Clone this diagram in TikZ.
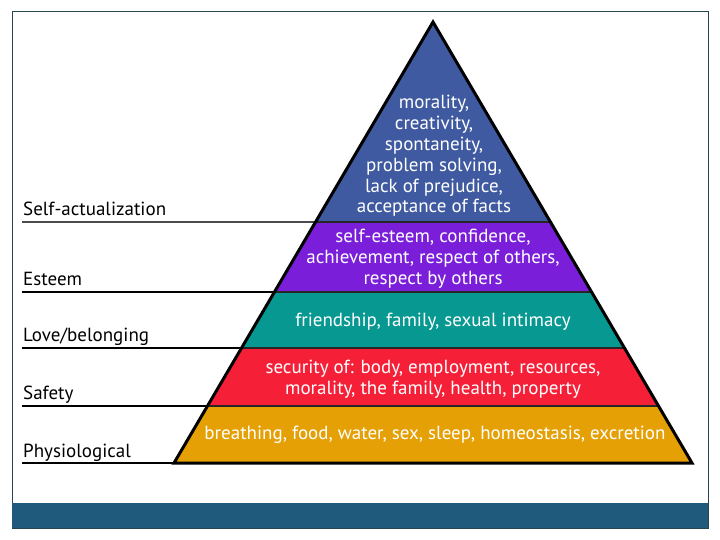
\documentclass[tikz,border=0pt]{standalone}
\usepackage{fontspec}
\setmainfont{PT Sans}
\definecolor{selfblue}{RGB}{63, 90, 160}
\definecolor{esteempurple}{RGB}{122, 30, 218}
\definecolor{loveteal}{RGB}{8, 152, 146}
\definecolor{safetyred}{RGB}{245, 32, 56}
\definecolor{physorange}{RGB}{228, 160, 4}
\definecolor{barblue}{RGB}{31, 90, 124}
\definecolor{framegray}{RGB}{40, 70, 80}
\usetikzlibrary{calc, positioning}

\begin{document}
\begin{tikzpicture}[x=1pt, y=-1pt,
    levelname/.style={anchor=base west, inner sep=0pt, font=\fontsize{19}{22}\selectfont},
    bandtext/.style={align=center, text=white, inner sep=0pt, font=\fontsize{19}{20.8}\selectfont}]
    \useasboundingbox (0,0) rectangle (720,540);
    % frame and bottom bar
    \draw[framegray, line width=1pt] (12,12) rectangle (708,528);
    \fill[barblue] (12,503) rectangle (708,528);
    % pyramid corners
    \coordinate (apex) at (433,22);
    \coordinate (bl) at (174,463);
    \coordinate (br) at (692,463);
    % coloured bands, top to bottom
    \foreach \a/\b/\color in {
        0/0.4535/selfblue,
        0.4535/0.6122/esteempurple,
        0.6122/0.7392/loveteal,
        0.7392/0.8707/safetyred,
        0.8707/1/physorange} {
        \fill[fill=\color] ($(apex)!\a!(bl)$) -- ($(apex)!\b!(bl)$)
            -- ($(apex)!\b!(br)$) -- ($(apex)!\a!(br)$) -- cycle;
    }
    % level names and their lines
    \foreach \i/\t/\name/\lw/\lc in {
        1/0.4535/Self-actualization/1.2pt/black!70,
        2/0.6122/Esteem/1.6pt/black,
        3/0.7392/Love\slash belonging/1.6pt/black,
        4/0.8707/Safety/1.6pt/black,
        5/1/Physiological/1.6pt/black} {
        \coordinate (edgeL\i) at ($(apex)!\t!(bl)$);
        \coordinate (edgeR\i) at ($(apex)!\t!(br)$);
        \coordinate (start\i) at (edgeL\i -| 22,0);
        \node[levelname] (level\i) at ($(start\i)+(1,-6)$) {\name};
        \draw[line width=\lw, draw=\lc] (start\i) -- (edgeL\i);
        \draw[line width=1.6pt, black!85] (edgeL\i) -- (edgeR\i);
    }
    % outline
    \draw[line width=3pt, line join=miter] (apex) -- (bl) -- (br) -- cycle;
    % band texts
    \node[bandtext] (selftext) at (434,156) {morality,\\creativity,\\spontaneity,\\problem solving,\\lack of prejudice,\\acceptance of facts};
    \node[bandtext] (esteemtext) at (433,259) {self-esteem, confidence,\\achievement, respect of others,\\respect by others};
    \node[bandtext] (lovetext) at (433,322) {friendship, family, sexual intimacy};
    \node[bandtext] (safetytext) at (433,379) {security of: body, employment, resources,\\morality, the family, health, property};
    \node[bandtext] (physiotext) at (435,435) {breathing, food, water, sex, sleep, homeostasis, excretion};
\end{tikzpicture}
\end{document}
